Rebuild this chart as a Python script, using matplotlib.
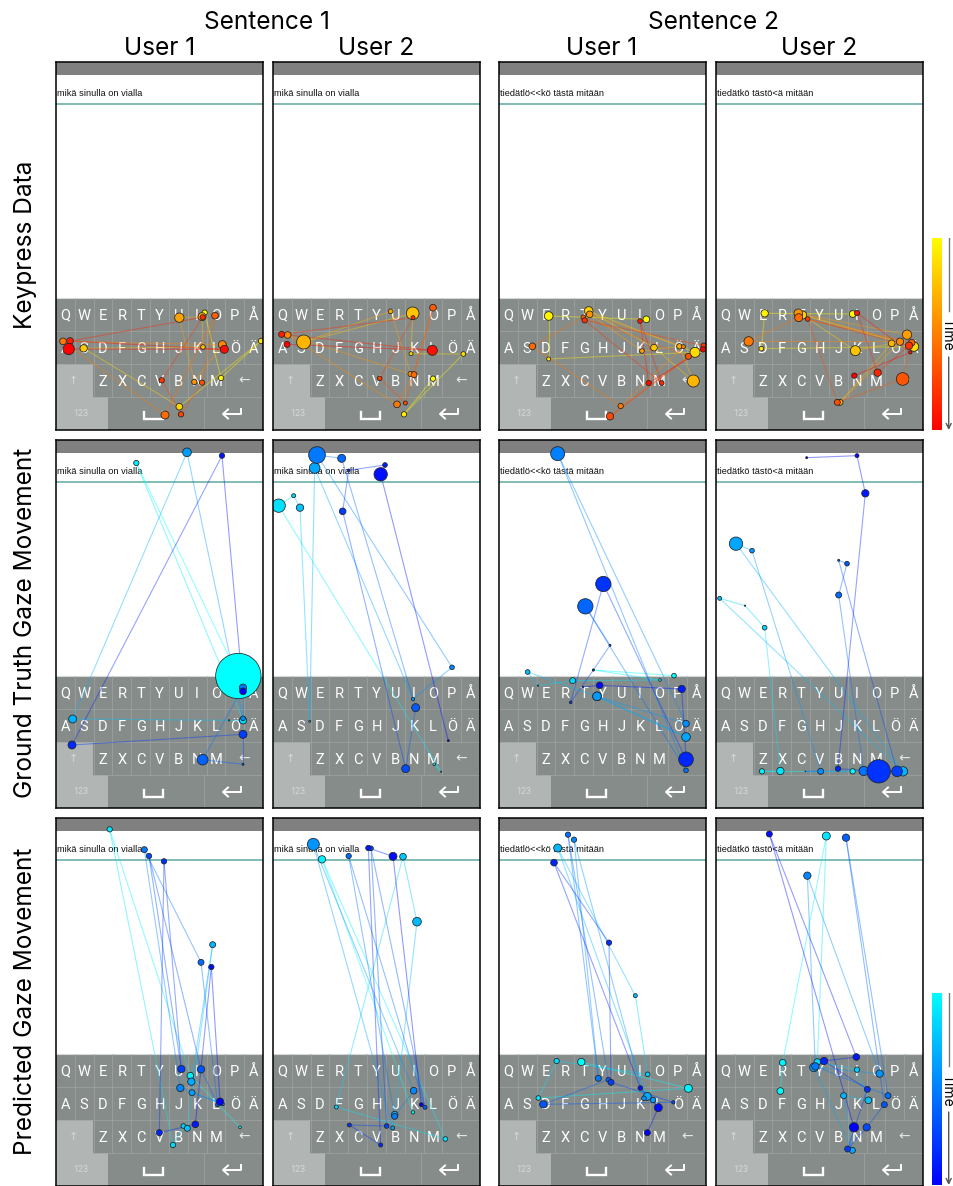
import numpy as np
import matplotlib
matplotlib.use('Agg')
import matplotlib.pyplot as plt
from matplotlib.colors import LinearSegmentedColormap
from matplotlib.patches import Rectangle

W, H = 954, 1186

sentence_titles = ['Sentence 1', 'Sentence 2']
user_titles = ['User 1', 'User 2', 'User 1', 'User 2']
row_titles = ['Keypress Data', 'Ground Truth Gaze Movement', 'Predicted Gaze Movement']
typed_text = ['mikä sinulla on vialla', 'mikä sinulla on vialla',
              'tiedätlö<<kö tästä mitään', 'tiedätkö tästö<ä mitään']

rows_qwerty = ['QWERTYUIOPÅ', 'ASDFGHJKLÖÄ', 'ZXCVBNM']

key_11 = [(463, 98, 8), (512, 294, 8), (632, 183, 8), (387, 380, 10), (100, 205, 11), (458, 201, 7),
          (455, 110, 12), (387, 113, 14), (432, 306, 8), (516, 194, 12), (38, 184, 10), (344, 405, 12),
          (494, 107, 10), (455, 308, 8), (392, 403, 8), (334, 301, 8), (457, 112, 8), (59, 183, 10),
          (522, 208, 12), (55, 207, 17)]
key_12 = [(488, 296, 8), (401, 403, 8), (579, 222, 7), (422, 221, 6), (427, 100, 19), (100, 186, 21),
          (361, 94, 7), (421, 282, 8), (52, 165, 10), (380, 373, 10), (431, 284, 9), (488, 83, 10),
          (405, 369, 6), (328, 295, 7), (428, 113, 6), (34, 163, 9), (486, 211, 15), (50, 193, 9)]
key_13 = [(454, 118, 10), (161, 108, 13), (161, 237, 6), (600, 217, 15), (281, 93, 13), (477, 203, 10),
          (595, 303, 18), (553, 199, 8), (441, 213, 7), (284, 103, 10), (565, 200, 6), (377, 378, 8),
          (112, 199, 10), (265, 112, 7), (580, 229, 9), (345, 409, 11), (626, 197, 8), (269, 121, 8),
          (500, 309, 7), (435, 123, 7), (461, 309, 8), (624, 208, 8)]
key_14 = [(428, 252, 10), (164, 250, 11), (154, 356, 7), (612, 350, 14), (278, 255, 12), (436, 362, 15),
          (545, 340, 10), (390, 517, 9), (591, 314, 14), (265, 250, 13), (570, 335, 11), (116, 334, 14),
          (266, 263, 12), (605, 338, 10), (578, 447, 19), (382, 517, 9), (293, 267, 7), (597, 347, 11),
          (503, 428, 11), (441, 249, 8), (601, 367, 5), (433, 437, 8)]

true_21 = [(564, 722, 68), (258, 83, 8), (578, 855, 11), (536, 855, 2), (67, 851, 12), (410, 51, 13),
           (578, 849, 7), (578, 757, 11), (457, 973, 16), (578, 987, 3), (578, 897, 12), (65, 929, 12),
           (515, 61, 8), (578, 768, 10)]
true_22 = [(492, 987, 4), (512, 1009, 2), (25, 211, 20), (70, 181, 6), (89, 217, 11), (118, 858, 3),
           (133, 98, 16), (428, 791, 5), (545, 696, 7), (140, 59, 25), (214, 69, 12), (436, 817, 12),
           (406, 1000, 12), (217, 228, 10), (235, 105, 4), (344, 89, 7), (331, 117, 20), (534, 916, 3)]
true_23 = [(537, 721, 7), (295, 704, 3), (495, 734, 4), (233, 736, 9), (129, 751, 2), (98, 710, 7),
           (306, 783, 13), (573, 905, 13), (306, 783, 13), (573, 865, 10), (188, 55, 21), (573, 1005, 7),
           (271, 513, 23), (345, 630, 3), (295, 704, 3), (227, 801, 4), (325, 446, 23), (573, 972, 22),
           (560, 761, 11), (314, 750, 10), (264, 755, 2)]
true_24 = [(422, 1008, 8), (150, 1008, 8), (205, 1007, 11), (158, 577, 7), (99, 511, 2), (23, 489, 6),
           (573, 1008, 14), (72, 325, 20), (120, 346, 7), (326, 1008, 9), (280, 1008, 1), (455, 1007, 14),
           (380, 479, 9), (405, 385, 7), (380, 375, 3), (555, 1008, 16), (500, 1008, 35), (378, 1000, 8),
           (460, 174, 11), (435, 61, 6), (284, 67, 3)]

pred_31 = [(572, 945, 4), (423, 790, 10), (181, 51, 8), (371, 998, 8), (402, 941, 7), (414, 948, 9),
           (490, 397, 9), (426, 808, 11), (428, 841, 9), (520, 875, 5), (393, 827, 11), (285, 112, 9),
           (455, 450, 9), (505, 877, 6), (455, 771, 11), (299, 131, 8), (396, 770, 11), (344, 147, 8),
           (330, 961, 9), (438, 936, 10), (486, 464, 8), (512, 868, 11)]
pred_32 = [(428, 900, 5), (155, 141, 11), (525, 980, 7), (198, 884, 6), (398, 133, 10), (440, 328, 13),
           (373, 907, 10), (367, 947, 6), (129, 96, 18), (430, 835, 10), (373, 912, 9), (235, 131, 8),
           (464, 885, 6), (302, 108, 7), (349, 941, 7), (237, 938, 6), (331, 998, 6), (294, 107, 8),
           (368, 132, 12), (453, 877, 6)]
pred_33 = [(259, 749, 11), (580, 828, 12), (130, 857, 7), (185, 746, 8), (458, 786, 7), (421, 550, 6),
           (188, 107, 12), (457, 852, 12), (474, 863, 8), (447, 858, 7), (237, 82, 8), (310, 798, 9),
           (219, 67, 8), (340, 802, 7), (145, 876, 11), (535, 870, 5), (348, 810, 9), (342, 391, 8),
           (177, 151, 10), (436, 827, 7), (490, 886, 12), (457, 961, 9)]
pred_34 = [(205, 836, 10), (212, 751, 10), (343, 71, 12), (316, 749, 10), (435, 772, 8), (469, 864, 10),
           (395, 850, 9), (421, 1014, 9), (306, 765, 13), (503, 784, 11), (286, 190, 11), (310, 762, 11),
           (528, 850, 9), (402, 76, 11), (517, 877, 9), (464, 945, 11), (407, 1010, 9), (466, 831, 9),
           (336, 746, 11), (433, 734, 10), (172, 65, 9), (426, 945, 14)]

all_paths = [[key_11, key_12, key_13, key_14],
             [true_21, true_22, true_23, true_24],
             [pred_31, pred_32, pred_33, pred_34]]

# where the panel corner sits in each crop
crop_x0 = [[17, 8, 12, 18], [17, 8, 12, 12], [20, 8, 12, 12]]
crop_y0 = [[-654, -654, -654, -504], [14, 14, 14, 14], [17, 17, 17, 17]]

col_left = [56, 273, 499, 716]
row_top = [62, 440, 818]
panel_w, panel_h = 207, 368

heat = LinearSegmentedColormap.from_list('heat', ['#ffff00', '#ff0000'])
cool = LinearSegmentedColormap.from_list('cool2', ['#00ffff', '#0000ff'])

plt.rcParams['font.family'] = ['Inter', 'DejaVu Sans']
fig = plt.figure(figsize=(W / 100, H / 100), dpi=100)


def fig_ax(x, y, w, h):
    return fig.add_axes([x / W, 1 - (y + h) / H, w / W, h / H])


def draw_phone(ax, label):
    key_c = '#868c8a'
    light = '#b1b6b4'
    grid_c = '#a0a5a3'
    key_w = panel_w / 11
    kb_top, rh = 236, 33
    ax.add_patch(Rectangle((0, 0), panel_w, 12.5, color='#808080', lw=0))
    ax.plot([0, panel_w], [42.3, 42.3], color='#5fa9a2', lw=1.1)
    ax.add_patch(Rectangle((0, kb_top), panel_w, panel_h - kb_top, color=key_c, lw=0))
    ax.add_patch(Rectangle((0, kb_top + 2 * rh), 1.95 * key_w, 2 * rh, color=light, lw=0))
    ax.add_patch(Rectangle((1.95 * key_w, kb_top + 3 * rh), 0.8 * key_w, rh, color=light, lw=0))
    ax.plot([0, panel_w], [kb_top, kb_top], color='#d5d8d7', lw=0.8)
    for r in [1, 2, 3]:
        x_from = 1.95 * key_w if r == 3 else 0
        ax.plot([x_from, panel_w], [kb_top + r * rh] * 2, color=grid_c, lw=0.5)
    for i in range(1, 11):
        ax.plot([i * key_w] * 2, [kb_top, kb_top + 2 * rh], color=grid_c, lw=0.5)
    for i in range(2, 10):
        ax.plot([i * key_w] * 2, [kb_top + 2 * rh, kb_top + 3 * rh], color=grid_c, lw=0.5)
    ax.plot([7.85 * key_w] * 2, [kb_top + 3 * rh, panel_h], color=grid_c, lw=0.5)

    key_font = dict(family=['Roboto', 'DejaVu Sans'], color='white', fontsize=10.5,
                    ha='center', va='center', zorder=2)
    for r, letters in enumerate(rows_qwerty):
        shift = 2 if r == 2 else 0
        for i, ch in enumerate(letters):
            ax.text((i + shift + 0.5) * key_w, kb_top + (r + 0.5) * rh + 1.2, ch, **key_font)
    ax.text(0.95 * key_w, kb_top + 2.5 * rh, '↑', family=['Roboto', 'DejaVu Sans'], color='#d5d8d7',
            fontsize=8, ha='center', va='center', zorder=2)
    ax.text(10 * key_w, kb_top + 2.5 * rh, '←', family=['Roboto', 'DejaVu Sans'], color='#e4e6e5',
            fontsize=10, ha='center', va='center', zorder=2)
    ax.text(25, kb_top + 3.5 * rh, '123', family=['Roboto', 'DejaVu Sans'], color='#d5d8d7',
            fontsize=6.5, ha='center', va='center', zorder=2)
    # space bar and return glyphs
    ax.plot([88, 88, 107, 107], [350, 357, 357, 350], color='white', lw=1.7,
            solid_joinstyle='miter', zorder=2)
    ax.plot([185, 185, 168], [347, 352, 352], color='white', lw=1.4, zorder=2)
    ax.plot([172, 167, 172], [347.5, 352, 356.5], color='white', lw=1.4, zorder=2)
    ax.text(1, 31.7, label, family=['Liberation Sans', 'DejaVu Sans'], color='#111111',
            fontsize=6.7, ha='left', va='center', zorder=2)


def draw_path(ax, path, x0, y0, cmap):
    xs = (np.array([p[0] for p in path]) - x0) / 3
    ys = (np.array([p[1] for p in path]) - y0) / 3
    rs = np.array([p[2] for p in path]) / 3
    t = np.linspace(0, 1, len(path))
    for i in range(len(path) - 1):
        ax.plot(xs[i:i + 2], ys[i:i + 2], color=cmap(t[i]), alpha=0.42, lw=0.8, zorder=3)
    ax.scatter(xs, ys, s=(2 * rs * 0.72) ** 2, c=cmap(t), edgecolors='#222222',
               linewidths=0.55, zorder=4)


for r in range(3):
    for c in range(4):
        ax = fig_ax(col_left[c], row_top[r], panel_w, panel_h)
        ax.set_xlim(0, panel_w)
        ax.set_ylim(panel_h, 0)
        ax.set_xticks([])
        ax.set_yticks([])
        for sp in ax.spines.values():
            sp.set_linewidth(1.1)
            sp.set_zorder(10)
        draw_phone(ax, typed_text[c])
        draw_path(ax, all_paths[r][c], crop_x0[r][c], crop_y0[r][c], heat if r == 0 else cool)


def fig_text(x, y, s, **kw):
    fig.text(x / W, 1 - y / H, s, ha='center', va='center', **kw)


fig_text(267, 22.5, sentence_titles[0], fontsize=17.6)
fig_text(714, 22.5, sentence_titles[1], fontsize=17.6)
for x, s in zip([160, 376, 602, 819], user_titles):
    fig_text(x, 48.5, s, fontsize=17.6)
for y, s in zip([245, 623, 1001], row_titles):
    fig_text(25.5, y, s, fontsize=17.6, rotation=90)

# colorbars with the time arrow next to them
grad = np.linspace(0, 1, 256).reshape(-1, 1)
for top, cmap, text_y, gap_top, gap_bot in [(238, heat, 334, 311, 357), (993, cool, 1090, 1066, 1112)]:
    cax = fig_ax(932, top, 9.5, 192.5)
    cax.imshow(grad, aspect='auto', cmap=cmap)
    cax.axis('off')
    fig_text(947.5, text_y, 'Time', fontsize=10, rotation=-90)
    over = fig_ax(943, top, 11, 192.5)
    over.set_xlim(943, 954)
    over.set_ylim(top + 192.5, top)
    over.axis('off')
    over.plot([948.7, 948.7], [top, gap_top], color='#777777', lw=1)
    over.annotate('', xy=(948.7, top + 192), xytext=(948.7, gap_bot),
                  arrowprops=dict(arrowstyle='->', color='#555555', lw=1, shrinkA=0, shrinkB=0,
                                  mutation_scale=9))

fig.savefig('out.png', dpi=100)
